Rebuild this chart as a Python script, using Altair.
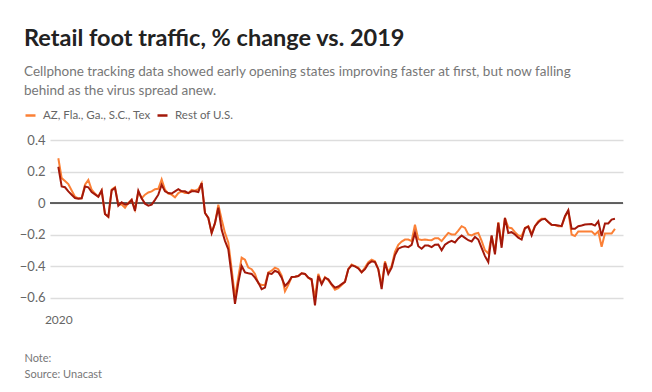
import altair as alt
import pandas as pd

series_names = ["AZ, Fla., Ga., S.C., Tex", "Rest of U.S."]
colors = ["#fb8036", "#a3180a"]

early_states = [
    0.284, 0.158, 0.14, 0.12, 0.08, 0.04, 0.03, 0.03, 0.116, 0.147,
    0.084, 0.06, 0.04, 0.08, -0.07, -0.088, 0.085, 0.1, -0.01, -0.01,
    -0.03, 0.0, 0.02, -0.04, 0.07, 0.03, 0.053, 0.067, 0.074, 0.088,
    0.09, 0.15, 0.084, 0.06, 0.053, 0.036, 0.063, 0.074, 0.063, 0.063,
    0.084, 0.078, 0.088, 0.126, -0.063, -0.095, -0.19, -0.13, -0.01, -0.105,
    -0.19, -0.25, -0.42, -0.6, -0.47, -0.347, -0.36, -0.41, -0.42, -0.45,
    -0.51, -0.52, -0.52, -0.44, -0.43, -0.41, -0.42, -0.46, -0.56, -0.52,
    -0.47, -0.468, -0.463, -0.446, -0.45, -0.474, -0.49, -0.6, -0.45, -0.51,
    -0.47, -0.49, -0.52, -0.55, -0.54, -0.52, -0.5, -0.42, -0.39, -0.4,
    -0.41, -0.44, -0.41, -0.375, -0.36, -0.37, -0.42, -0.52, -0.37, -0.44,
    -0.4, -0.31, -0.265, -0.245, -0.232, -0.232, -0.242, -0.137, -0.23, -0.235,
    -0.232, -0.235, -0.236, -0.223, -0.223, -0.242, -0.215, -0.19, -0.2, -0.2,
    -0.175, -0.147, -0.158, -0.2, -0.206, -0.195, -0.19, -0.24, -0.3, -0.32,
    -0.21, -0.31, -0.122, -0.263, -0.095, -0.155, -0.16, -0.185, -0.206, -0.21,
    -0.158, -0.147, -0.195, -0.147, -0.116, -0.1, -0.1, -0.12, -0.14, -0.14,
    -0.147, -0.147, -0.088, -0.05, -0.2, -0.21, -0.18, -0.18, -0.18, -0.18,
    -0.18, -0.2, -0.18, -0.278, -0.194, -0.194, -0.194, -0.164,
]

rest_of_us = [
    0.23, 0.105, 0.10, 0.074, 0.053, 0.032, 0.027, 0.03, 0.105, 0.10,
    0.07, 0.055, 0.04, 0.08, -0.07, -0.088, 0.08, 0.095, -0.017, 0.004,
    -0.01, -0.004, 0.02, -0.05, 0.078, 0.03, -0.004, -0.017, -0.01, 0.02,
    0.053, 0.116, 0.074, 0.063, 0.06, 0.074, 0.088, 0.074, 0.074, 0.063,
    0.074, 0.074, 0.07, 0.126, -0.063, -0.095, -0.19, -0.126, -0.03, -0.17,
    -0.24, -0.295, -0.46, -0.64, -0.505, -0.40, -0.44, -0.446, -0.45, -0.474,
    -0.505, -0.547, -0.537, -0.446, -0.45, -0.43, -0.44, -0.474, -0.526, -0.505,
    -0.47, -0.468, -0.463, -0.446, -0.45, -0.474, -0.484, -0.65, -0.463, -0.516,
    -0.474, -0.484, -0.516, -0.537, -0.53, -0.515, -0.5, -0.42, -0.396, -0.402,
    -0.415, -0.44, -0.42, -0.385, -0.37, -0.375, -0.42, -0.547, -0.38, -0.45,
    -0.41, -0.33, -0.29, -0.28, -0.275, -0.28, -0.265, -0.19, -0.274, -0.29,
    -0.27, -0.27, -0.28, -0.265, -0.263, -0.3, -0.265, -0.25, -0.24, -0.25,
    -0.225, -0.206, -0.221, -0.236, -0.244, -0.215, -0.232, -0.284, -0.337, -0.375,
    -0.206, -0.326, -0.126, -0.284, -0.095, -0.19, -0.185, -0.2, -0.22, -0.232,
    -0.16, -0.15, -0.206, -0.147, -0.122, -0.105, -0.1, -0.12, -0.138, -0.14,
    -0.142, -0.147, -0.084, -0.046, -0.164, -0.164, -0.147, -0.143, -0.137, -0.135,
    -0.133, -0.143, -0.116, -0.21, -0.13, -0.13, -0.105, -0.1,
]

y_ticks = [-0.6, -0.4, -0.2, 0, 0.2, 0.4]
zero_line = [0]

title_text = "Retail foot traffic, % change vs. 2019"
subtitle_lines = [
    "Cellphone tracking data showed early opening states improving faster at first, but now falling",
    "behind as the virus spread anew.",
]
note_lines = ["Note:", "Source: Unacast"]

dates = pd.date_range("2020-01-01", periods=len(rest_of_us), freq="D")
df = pd.concat([
    pd.DataFrame({"date": dates, "value": early_states, "series": series_names[0]}),
    pd.DataFrame({"date": dates, "value": rest_of_us, "series": series_names[1]}),
])
zero_df = pd.DataFrame({"value": zero_line})

FONT = "Lato"

x_enc = alt.X(
    "date:T",
    scale=alt.Scale(domain=[alt.DateTime(year=2019, month=12, date=29, hours=12),
                            alt.DateTime(year=2020, month=6, date=18, hours=10)]),
    axis=alt.Axis(
        values=[alt.DateTime(year=2020, month=1, date=1)], format="%Y",
        ticks=False, domain=False, grid=False, labelPadding=7,
        labelFontSize=12, labelColor="#666", labelFont=FONT,
        title=note_lines, titleAnchor="start", titleAlign="left", titleBaseline="top",
        titleX=-26, titleY=45, titleFontSize=11, titleFontWeight="normal",
        titleColor="#777", titleFont=FONT, titleLineHeight=16,
    ),
)
y_enc = alt.Y(
    "value:Q",
    scale=alt.Scale(domain=[-0.66, 0.4], nice=False, zero=False),
    axis=alt.Axis(
        values=y_ticks, format="~g", ticks=False, domain=False, labelOverlap=False,
        labelFlush=False, labelBound=False,
        gridColor="#dddddd", gridWidth=1.5, labelPadding=5,
        labelFontSize=13, labelColor="#666", labelFont=FONT, title=None,
    ),
)
color_enc = alt.Color(
    "series:N",
    scale=alt.Scale(domain=series_names, range=colors),
    legend=alt.Legend(
        title=None, orient="none", legendX=-26, legendY=-31, direction="horizontal",
        symbolType="stroke", symbolSize=100, symbolStrokeWidth=2.5,
        labelFontSize=11.5, labelColor="#666", labelFont=FONT, labelOffset=6,
        columnPadding=1,
    ),
)

base = alt.Chart(df).encode(x=x_enc, y=y_enc, color=color_enc)
orange_line = base.transform_filter(alt.datum.series == series_names[0]).mark_line(strokeWidth=2)
dark_line = base.transform_filter(alt.datum.series == series_names[1]).mark_line(strokeWidth=2)
zero_rule = alt.Chart(zero_df).mark_rule(color="#333333", strokeWidth=1.5).encode(y=y_enc)

chart = alt.layer(zero_rule, orange_line, dark_line).properties(
    width=573, height=167,
    autosize=alt.AutoSizeParams(type="none"),
    padding={"left": 42, "top": 132, "right": 21, "bottom": 77},
    background="white",
    title=alt.TitleParams(
        text=title_text, subtitle=subtitle_lines, anchor="start", frame="group",
        dx=-26, offset=12, font=FONT, fontSize=23.5, fontWeight="bold", color="#222222",
        subtitleFont=FONT, subtitleFontSize=13.5, subtitleColor="#777777",
        subtitleLineHeight=19, subtitlePadding=14,
    ),
).configure_view(strokeWidth=0, stroke="transparent")

chart.save("out.html", embed_options={"renderer": "svg", "actions": False})
